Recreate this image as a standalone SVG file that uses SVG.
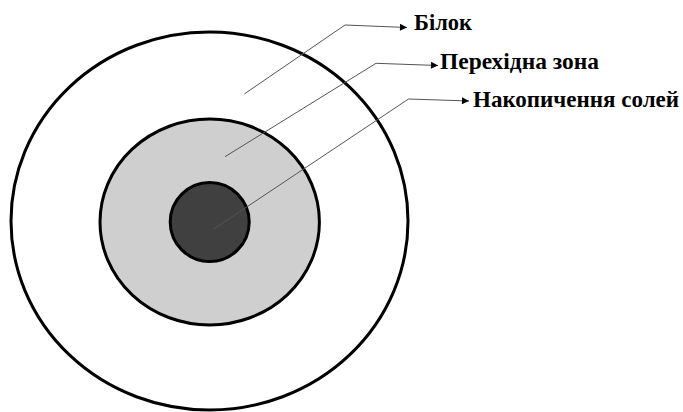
<svg xmlns="http://www.w3.org/2000/svg" width="683" height="412" viewBox="0 0 683 412">
<defs>
<style>
.ring{stroke:#000;stroke-width:3}
.lead{fill:none;stroke:#555;stroke-width:1}
.lbl{font-family:"Liberation Serif","Times New Roman",serif;font-weight:bold;font-size:22.5px;fill:#000}
</style>
<marker id="ah" viewBox="0 0 10 10" refX="10" refY="5" markerWidth="9" markerHeight="7" markerUnits="userSpaceOnUse" orient="auto">
<path d="M0,0 L10,5 L0,10 Z" fill="#000"/>
</marker>
</defs>
<rect width="683" height="412" fill="#fff"/>
<g id="outer"><ellipse class="ring" cx="209.5" cy="221" rx="198.5" ry="189" fill="#fff"/></g>
<g id="middle"><ellipse class="ring" cx="209.7" cy="222" rx="109.7" ry="103" fill="#d0cfd0"/></g>
<g id="inner"><circle class="ring" cx="209.7" cy="222" r="39.5" fill="#404040"/></g>
<g id="connectors">
<polyline class="lead" points="244.3,94 345,25 407,27.5" marker-end="url(#ah)"/>
<polyline class="lead" points="225,156.7 376,63.3 438,65.5" marker-end="url(#ah)"/>
<polyline class="lead" points="213.3,229.3 408.5,99 469,101" marker-end="url(#ah)"/>
</g>
<g id="labels">
<text class="lbl" x="414" y="30" textLength="58" lengthAdjust="spacingAndGlyphs">Білок</text>
<text class="lbl" x="440" y="69" textLength="159" lengthAdjust="spacingAndGlyphs">Перехідна зона</text>
<text class="lbl" x="473" y="107" textLength="206" lengthAdjust="spacingAndGlyphs">Накопичення солей</text>
</g>
</svg>
